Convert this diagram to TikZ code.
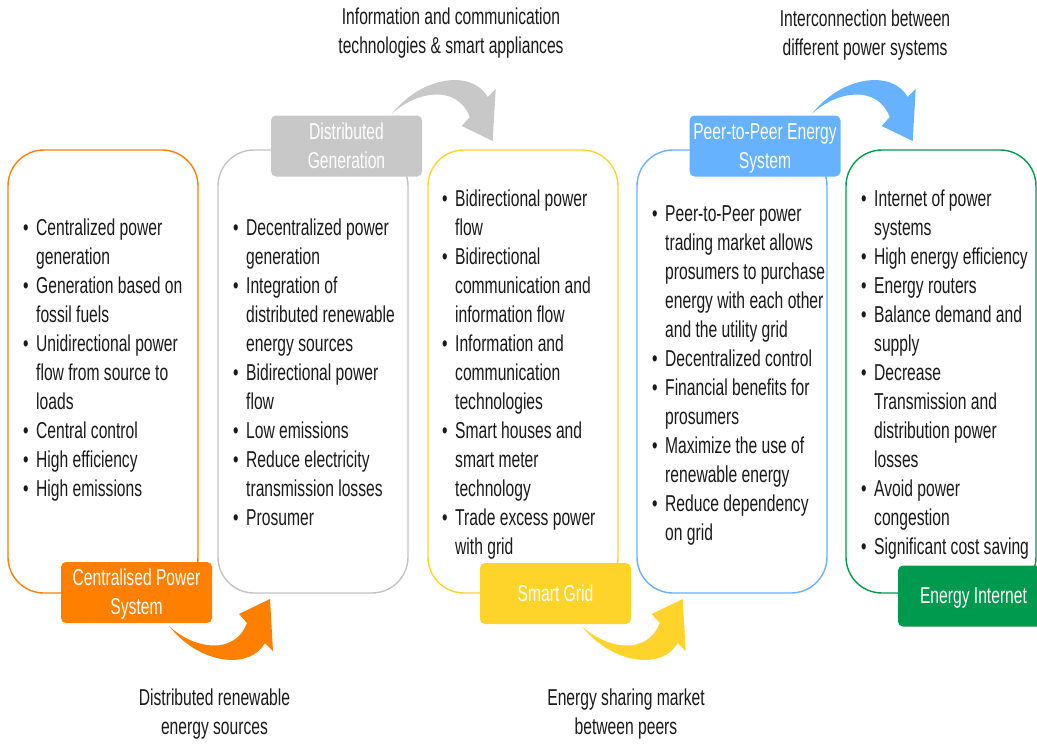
\documentclass[tikz,border=0pt]{standalone}
\usepackage{fontspec}
\setmainfont[FakeStretch=0.68]{Liberation Sans}
\definecolor{cpsOrange}{HTML}{FF8000}
\definecolor{dgGrey}{HTML}{C8C8C8}
\definecolor{dgLine}{HTML}{C4C4C4}
\definecolor{sgYellow}{HTML}{FFD42A}
\definecolor{ppBlue}{HTML}{66B2FF}
\definecolor{eiGreen}{HTML}{009A4E}
\definecolor{ink}{HTML}{1A1A1A}
\newcommand{\bodyfont}{\fontsize{23}{29}\selectfont}
% use the font's own word spaces inside ragged paragraphs
\newcommand{\plainspaces}{\spaceskip=0pt\xspaceskip=0pt\relax}
% strut that centres the cap height of a tag line
\newcommand{\tagstrut}{\rule[-3.8pt]{0pt}{24.1pt}}
\newenvironment{bulletlist}{%
  \plainspaces
  \begin{list}{\textbullet}{%
    \setlength\leftmargin{14pt}\setlength\labelwidth{6pt}%
    \setlength\labelsep{7.5pt}\setlength\itemsep{0pt}%
    \setlength\parsep{0pt}\setlength\topsep{0pt}\setlength\partopsep{0pt}}}%
  {\end{list}}
\begin{document}
\begin{tikzpicture}[x=1pt,y=-1pt,
  panel/.style={draw=#1, line width=1.4pt, rounded corners=36pt, fill=white,
    minimum width=190pt, minimum height=443pt, inner sep=0pt},
  tag/.style={fill=#1, rounded corners=5pt, minimum width=151pt,
    minimum height=61pt, text=white, align=center, font=\bodyfont, inner sep=0pt},
  note/.style={anchor=north, align=center, font=\bodyfont,
    text=ink, inner sep=0pt},
  pointlist/.style={anchor=north west, text width=200pt, align=left,
    font=\bodyfont, text=ink, inner sep=0pt},
  pics/bentarrow/.style={code={
    \fill[#1] (0,0) .. controls (26,24) and (66,29) .. (78,-3)
      -- (70,-12) -- (101,-27) -- (104,25) -- (96,17)
      .. controls (81,44) and (31,39) .. cycle;}}]
\useasboundingbox (0,0) rectangle (1037,745);

% five stage panels
\node[panel=cpsOrange] (p1) at (103,371.5) {};
\node[panel=dgLine]    (p2) at (313,371.5) {};
\node[panel=sgYellow]  (p3) at (523,371.5) {};
\node[panel=ppBlue]    (p4) at (732,371.5) {};
\node[panel=eiGreen]   (p5) at (941,371.5) {};

% bullet lists
\node[pointlist] (l1) at (22,206) {\begin{bulletlist}
  \item\strut Centralized power\\generation
  \item Generation based on\\fossil fuels
  \item Unidirectional power\\flow from source to\\loads
  \item Central control
  \item High efficiency
  \item High emissions
\end{bulletlist}};
\node[pointlist] (l2) at (232,206) {\begin{bulletlist}
  \item\strut Decentralized power\\generation
  \item Integration of\\distributed renewable\\energy sources
  \item Bidirectional power\\flow
  \item Low emissions
  \item Reduce electricity\\transmission losses
  \item Prosumer
\end{bulletlist}};
\node[pointlist] (l3) at (441,177) {\begin{bulletlist}
  \item\strut Bidirectional power\\flow
  \item Bidirectional\\communication and\\information flow
  \item Information and\\communication\\technologies
  \item Smart houses and\\smart meter\\technology
  \item Trade excess power\\with grid
\end{bulletlist}};
\node[pointlist] (l4) at (651,192) {\begin{bulletlist}
  \item\strut Peer-to-Peer power\\trading market allows\\prosumers to purchase\\energy with each other\\and the utility grid
  \item Decentralized control
  \item Financial benefits for\\prosumers
  \item Maximize the use of\\renewable energy
  \item Reduce dependency\\on grid
\end{bulletlist}};
\node[pointlist] (l5) at (860,177) {\begin{bulletlist}
  \item\strut Internet of power\\systems
  \item High energy efficiency
  \item Energy routers
  \item Balance demand and\\supply
  \item Decrease\\Transmission and\\distribution power\\losses
  \item Avoid power\\congestion
  \item Significant cost saving
\end{bulletlist}};

% stage tags
\node[tag=cpsOrange] (t1) at (136.5,592.5) {\tagstrut Centralised Power\\\tagstrut System};
\node[tag=dgGrey]    (t2) at (346.5,146)   {\tagstrut Distributed\\\tagstrut Generation};
\node[tag=sgYellow]  (t3) at (555.5,593.5) {\tagstrut Smart Grid};
\node[tag=ppBlue]    (t4) at (765,146)     {\tagstrut Peer-to-Peer Energy\\\tagstrut System};
\node[tag=eiGreen]   (t5) at (973.5,596)   {\tagstrut Energy Internet};

% transition arrows
\pic at (169,626) {bentarrow=cpsOrange};
\pic[yscale=-1] at (391.7,114) {bentarrow=dgGrey};
\pic at (581.7,626) {bentarrow=sgYellow};
\pic[yscale=-1] at (811.7,114) {bentarrow=ppBlue};

% transition drivers
\node[note] (n1) at (451,4)       {\strut Information and communication\\\strut technologies \& smart appliances};
\node[note] (n2) at (865,6)       {\strut Interconnection between\\\strut different power systems};
\node[note] (n3) at (214.5,684.7) {\strut Distributed renewable\\\strut energy sources};
\node[note] (n4) at (626,685.2)   {\strut Energy sharing market\\\strut between peers};
\end{tikzpicture}
\end{document}
